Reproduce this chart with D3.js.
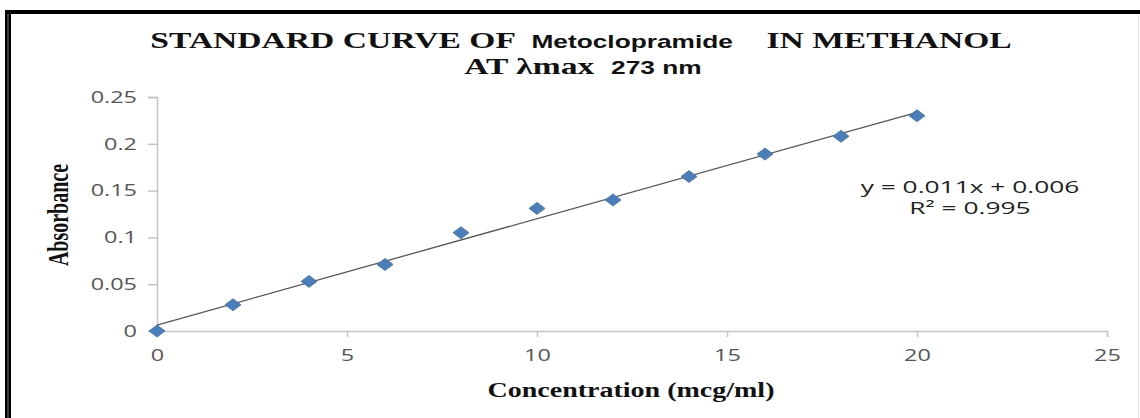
<!DOCTYPE html>
<html>
<head>
<meta charset="utf-8">
<script src="https://cdn.jsdelivr.net/npm/d3@7"></script>
<style>
  body { margin: 0; background: #fff; }
  svg { display: block; }
</style>
</head>
<body>
<svg id="chart" width="1140" height="418"></svg>
<script>
// data
var concentration = [0, 2, 4, 6, 8, 10, 12, 14, 16, 18, 20];
var absorbance = [0, 0.028, 0.053, 0.071, 0.105, 0.131, 0.140, 0.165, 0.189, 0.208, 0.230];
var xTicks = [0, 5, 10, 15, 20, 25];
var yTicks = [0, 0.05, 0.1, 0.15, 0.2, 0.25];
var equationLines = ["y = 0.011x + 0.006", "R\u00b2 = 0.995"];

var svg = d3.select("#chart");
var W = 1140, H = 418;
var stretch = 1.42; // the picture is pulled out sideways, text too

// frame
svg.append("line").attr("x1", 5).attr("x2", W).attr("y1", 12).attr("y2", 12)
  .attr("stroke", "#000").attr("stroke-width", 4);
svg.append("line").attr("x1", 8).attr("x2", 8).attr("y1", 10).attr("y2", H)
  .attr("stroke", "#000").attr("stroke-width", 6);
svg.append("line").attr("x1", 8).attr("x2", 8).attr("y1", 14).attr("y2", H)
  .attr("stroke", "#777").attr("stroke-width", 1);
svg.append("line").attr("x1", W - 1.5).attr("x2", W - 1.5).attr("y1", 14).attr("y2", H)
  .attr("stroke", "#e4e4e4").attr("stroke-width", 1);

var x = d3.scaleLinear().domain([0, 25]).range([157, 1107]);
var y = d3.scaleLinear().domain([0, 0.25]).range([331, 97]);

var axisColor = "#c4c4c4";
var tickFont = "'Open Sans', sans-serif";

// y axis
var yAxis = svg.append("g").attr("transform", "translate(157,0)")
  .call(d3.axisLeft(y).tickValues(yTicks).tickSize(9).tickPadding(11)
    .tickFormat(function (d) { return d3.format("")(+d.toFixed(2)); }));
// x axis
var xAxis = svg.append("g").attr("transform", "translate(0,331)")
  .call(d3.axisBottom(x).tickValues(xTicks).tickSize(6).tickPadding(12));

[xAxis, yAxis].forEach(function (g) {
  g.select(".domain").attr("stroke", axisColor).attr("stroke-width", 1.5);
  g.selectAll(".tick line").attr("stroke", axisColor).attr("stroke-width", 1.5);
  g.selectAll(".tick text").attr("fill", "#555").style("font-family", tickFont)
    .style("font-size", "16.5px")
    .each(function () {
      var t = d3.select(this);
      var tx = +t.attr("x") || 0;
      t.attr("x", 0).attr("transform", "translate(" + tx + ",0) scale(" + stretch + ",1)");
    });
});

// trendline (least squares, as Excel draws it)
var mx = d3.mean(concentration), my = d3.mean(absorbance);
var sxy = d3.sum(concentration, function (v, i) { return (v - mx) * (absorbance[i] - my); });
var sxx = d3.sum(concentration, function (v) { return (v - mx) * (v - mx); });
var slope = sxy / sxx, intercept = my - slope * mx;
var xMax = d3.max(concentration);

svg.append("line")
  .attr("x1", x(0)).attr("y1", y(intercept))
  .attr("x2", x(xMax)).attr("y2", y(intercept + slope * xMax))
  .attr("stroke", "#555").attr("stroke-width", 1.3);

// markers
var points = concentration.map(function (c, i) { return { c: c, a: absorbance[i] }; });
svg.append("g").selectAll("path").data(points).join("path")
  .attr("d", "M0,-6L8,0L0,6L-8,0Z")
  .attr("transform", function (d) { return "translate(" + x(d.c) + "," + y(d.a) + ")"; })
  .attr("fill", "#4a7ebb").attr("stroke", "#3f6fa8").attr("stroke-width", 0.8);

// stretched text helper
function stretched(cx, cy, sx) {
  return svg.append("text").attr("text-anchor", "middle")
    .attr("data-cx", cx).attr("data-cy", cy)
    .attr("transform", "translate(" + cx + "," + cy + ") scale(" + sx + ",1)");
}
function fit(sel, width) {
  var k = width / sel.node().getComputedTextLength();
  sel.attr("transform", "translate(" + sel.attr("data-cx") + "," + sel.attr("data-cy") + ") scale(" + k + ",1)");
  return k;
}

// equation
var eq = stretched(970, 193, 1.55)
  .style("font-family", "'Open Sans', sans-serif").style("font-size", "17px").attr("fill", "#222");
eq.selectAll("tspan").data(equationLines).join("tspan")
  .attr("x", 0).attr("dy", function (d, i) { return i ? 21 : 0; })
  .text(function (d) { return d; });

// title, fitted to the width seen in the picture
var serif = "'Liberation Serif', 'Times New Roman', serif";
var sans = "'Liberation Sans Narrow', 'Liberation Sans', sans-serif";

var t1 = stretched(581, 48, 1)
  .attr("fill", "#111").style("font-weight", "bold").style("white-space", "pre");
t1.append("tspan").style("font-family", serif).style("font-size", "23px").text("STANDARD CURVE OF  ");
t1.append("tspan").style("font-family", sans).style("font-size", "18px").text("Metoclopramide");
t1.append("tspan").style("font-family", serif).style("font-size", "23px").text("    IN METHANOL");
var k = fit(t1, 862);

var t2 = stretched(583, 74, k)
  .attr("fill", "#111").style("font-weight", "bold").style("white-space", "pre");
t2.append("tspan").style("font-family", serif).style("font-size", "23px").text("AT \u03bbmax  ");
t2.append("tspan").style("font-family", sans).style("font-size", "18px").text("273 nm");

// axis titles
svg.append("text").attr("transform", "translate(68,215) scale(1.5,1) rotate(-90)")
  .attr("text-anchor", "middle").attr("fill", "#111")
  .style("font-family", serif).style("font-weight", "bold").style("font-size", "20px")
  .text("Absorbance");
var xl = stretched(631, 397, 1)
  .attr("fill", "#111")
  .style("font-family", serif).style("font-weight", "bold").style("font-size", "20px")
  .text("Concentration (mcg/ml)");
fit(xl, 287);
</script>
</body>
</html>
